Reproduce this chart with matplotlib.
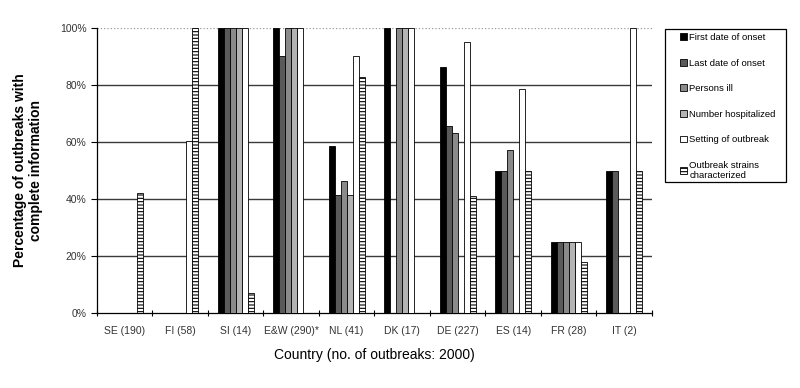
import numpy as np
import matplotlib
matplotlib.use("Agg")
import matplotlib.pyplot as plt
from matplotlib.patches import Rectangle
from matplotlib.ticker import PercentFormatter

countries = ["SE (190)", "FI (58)", "SI (14)", "E&W (290)*", "NL (41)",
             "DK (17)", "DE (227)", "ES (14)", "FR (28)", "IT (2)"]

first_onset = [0, 0, 100, 100, 58.5, 100, 86.3, 50, 25, 50]
last_onset = [0, 0, 100, 90.3, 41.5, 0, 65.6, 50, 25, 50]
persons_ill = [0, 0, 100, 100, 46.3, 100, 63.0, 57.1, 25, 0]
hospitalized = [0, 0, 100, 100, 41.5, 100, 0, 0, 25, 0]
setting = [0, 60.3, 100, 100, 90.2, 100, 95.0, 78.6, 25, 100]
strains = [42.1, 100, 7.1, 0, 82.9, 0, 41.0, 50, 17.9, 50]

series = [first_onset, last_onset, persons_ill, hospitalized, setting, strains]
labels = ["First date of onset", "Last date of onset", "Persons ill",
          "Number hospitalized", "Setting of outbreak",
          "Outbreak strains\ncharacterized"]
colors = ["#000000", "#5a5a5a", "#8a8a8a", "#b4b4b4", "#ffffff", "#ffffff"]
hatches = [None, None, None, None, None, "-----"]

plt.rcParams["font.family"] = ["Liberation Sans", "DejaVu Sans"]
plt.rcParams["hatch.linewidth"] = 0.8

fig = plt.figure(figsize=(8, 3.88), dpi=100)
ax = fig.add_axes([0.121, 0.193, 0.694, 0.735])

x = np.arange(len(countries))
w = 0.108
for i, vals in enumerate(series):
    ax.bar(x + (i - 2.5) * w, vals, width=w, color=colors[i],
           edgecolor="black", linewidth=0.6, hatch=hatches[i],
           label=labels[i], zorder=3)

ax.set_xlim(-0.5, len(countries) - 0.5)
ax.set_ylim(0, 100)
ax.yaxis.set_major_formatter(PercentFormatter(decimals=0))
ax.set_yticks(np.arange(0, 101, 20))
ax.set_xticks(x)
ax.set_xticklabels(countries, fontsize=7.5, color="#333333")
ax.set_xticks(np.arange(-0.5, len(countries), 1), minor=True)
ax.tick_params(axis="x", which="major", length=0, pad=9)
ax.tick_params(axis="x", which="minor", length=4, direction="inout", width=0.8)
ax.tick_params(axis="y", labelsize=7.5, labelcolor="#333333", length=4, width=0.8)

for v in [20, 40, 60, 80]:
    ax.axhline(v, color="#3a3a3a", linewidth=1.0, zorder=1)
ax.axhline(100, color="#999999", linewidth=0.9, linestyle=":", zorder=1)

for s in ["top", "right"]:
    ax.spines[s].set_visible(False)
ax.spines["left"].set_linewidth(0.9)
ax.spines["bottom"].set_linewidth(0.9)

ax.set_ylabel("Percentage of outbreaks with\ncomplete information",
              fontsize=10, fontweight="bold", labelpad=12)
ax.set_xlabel("Country (no. of outbreaks: 2000)", fontsize=10, labelpad=9)

# legend box drawn separately so the padding matches the original
fig.patches.append(Rectangle((665 / 800, 1 - 182 / 388), 121 / 800, 153 / 388,
                             transform=fig.transFigure, fill=False,
                             edgecolor="black", linewidth=0.9))
fig.legend(loc="upper left", bbox_to_anchor=(680 / 800, 1 - 33 / 388),
           fontsize=6.8, frameon=False,
           handlelength=0.7, handleheight=0.7, handletextpad=0.3,
           labelspacing=1.75, borderpad=0, borderaxespad=0)

plt.savefig("out.png", dpi=100)
